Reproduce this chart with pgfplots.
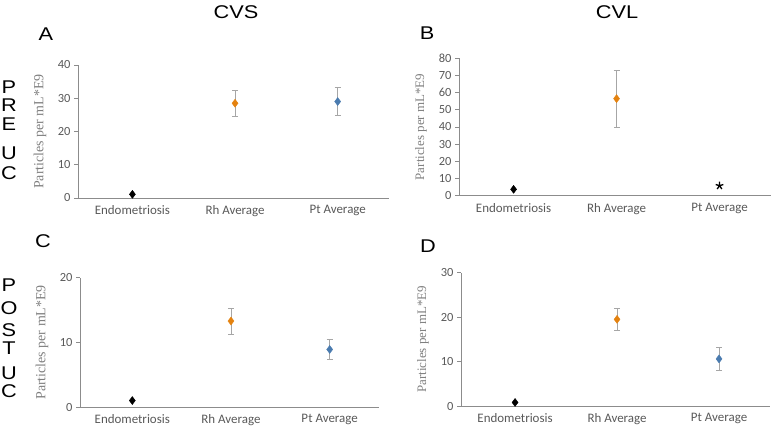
\documentclass[border=0pt]{standalone}
\usepackage{pgfplots}
\pgfplotsset{compat=1.18}
\usepackage{fontspec}
\setmainfont{Liberation Sans}
\newfontfamily\calibri{Carlito}
\newfontfamily\serifl{Liberation Serif}
\definecolor{axgray}{HTML}{8C8C8C}
\definecolor{tickgray}{HTML}{595959}
\definecolor{labgray}{HTML}{7F7F7F}
\definecolor{errgray}{HTML}{A6A6A6}
\definecolor{orangeM}{HTML}{E4820F}
\definecolor{blueM}{HTML}{4A7BAF}
\pgfplotsset{
  panel/.style={
    scale only axis,
    anchor=south west,
    xmin=-0.53, xmax=2.5, ymin=0,
    axis lines=left,
    axis line style={axgray, line width=0.9bp, -},
    xtick={0,1,2},
    xticklabels={Endometriosis,Rh Average,Pt Average},
    x tick style={draw=none},
    y tick style={axgray, line width=0.8bp},
    tick align=outside,
    major tick length=4bp,
    /pgf/number format/assume math mode=true,
    xticklabel style={font=\fontsize{13}{13}\selectfont\calibri, text=tickgray},
    yticklabel style={font=\fontsize{12.5}{12.5}\selectfont\calibri, text=tickgray},
    ylabel={Particles per mL*E9},
    ylabel style={at={(axis description cs:0,0.5)}, anchor=center, yshift=38bp, text=labgray},
    clip=false,
  },
  pt/.style={only marks, mark=diamond*, mark size=4bp, mark options={draw=#1, fill=#1},
    error bars/.cd, y dir=both, y explicit,
    error bar style={errgray, line width=0.9bp},
    error mark options={rotate=90, errgray, mark size=3bp, line width=0.9bp}},
}
\begin{document}
\begin{tikzpicture}[x=1bp,y=1bp]
\useasboundingbox (0,0) rectangle (778,429);

% Panel A
\begin{axis}[panel, at={(78bp,231bp)}, width=311bp, height=133bp, ymax=40, ytick={0,10,20,30,40},
  ylabel style={font=\fontsize{14}{14}\selectfont\serifl}]
\addplot[pt=black] coordinates {(0,1.1) +- (0,0)};
\addplot[pt=orangeM] coordinates {(1,28.5) +- (0,3.9)};
\addplot[pt=blueM] coordinates {(2,29.0) +- (0,4.1)};
\end{axis}

% Panel B
\begin{axis}[panel, at={(459bp,233.3bp)}, width=312bp, height=137.4bp, ymax=80, ytick={0,10,...,80},
  ylabel style={font=\fontsize{13}{13}\selectfont\serifl}]
\addplot[pt=black] coordinates {(0,3.7) +- (0,0)};
\addplot[pt=orangeM] coordinates {(1,56.5) +- (0,16.5)};
\addplot[only marks, mark=star, mark size=4bp, mark options={black, line width=1.3bp}] coordinates {(2,5.8)};
\end{axis}

% Panel C
\begin{axis}[panel, at={(80bp,22bp)}, width=299bp, height=129.3bp, ymax=20, ytick={0,10,20},
  ylabel style={font=\fontsize{14}{14}\selectfont\serifl}]
\addplot[pt=black] coordinates {(0,1.0) +- (0,0)};
\addplot[pt=orangeM] coordinates {(1,13.3) +- (0,2.0)};
\addplot[pt=blueM] coordinates {(2,8.9) +- (0,1.5)};
\end{axis}

% Panel D
\begin{axis}[panel, at={(461bp,23bp)}, width=309bp, height=133.3bp, ymax=30, ytick={0,10,20,30},
  ylabel style={font=\fontsize{13}{13}\selectfont\serifl}]
\addplot[pt=black] coordinates {(0,0.8) +- (0,0)};
\addplot[pt=orangeM] coordinates {(1,19.5) +- (0,2.55)};
\addplot[pt=blueM] coordinates {(2,10.6) +- (0,2.5)};
\end{axis}

% Titles and panel letters
\begin{scope}[every node/.style={inner sep=0pt, anchor=center, xscale=1.18, font=\fontsize{18.5}{18.5}\selectfont}]
\node at (236,429-11.7) {CVS};
\node at (617,429-11.7) {CVL};
\node at (46,429-34.5) {A};
\node at (427,429-33.5) {B};
\node at (43,429-241.5) {C};
\node at (428,429-246.5) {D};
% PRE UC
\node at (9,429-87) {P};
\node at (9,429-105) {R};
\node at (9,429-124) {E};
\node at (9,429-153) {U};
\node at (9,429-173.5) {C};
% POST UC
\node at (9,429-285) {P};
\node at (9,429-308.5) {O};
\node at (9,429-330) {S};
\node at (9,429-348.5) {T};
\node at (9,429-373.5) {U};
\node at (9,429-391) {C};
\end{scope}
\end{tikzpicture}
\end{document}
